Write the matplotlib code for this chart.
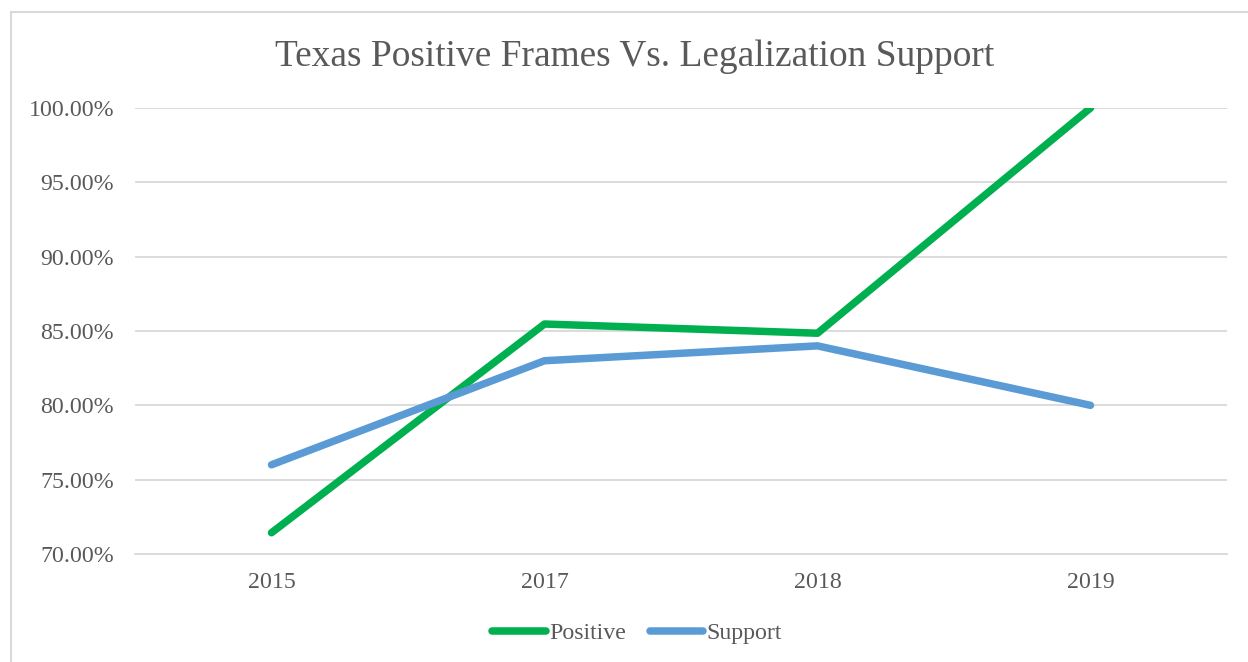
import matplotlib
matplotlib.use('Agg')
import matplotlib.pyplot as plt
from matplotlib.lines import Line2D
from matplotlib.ticker import FuncFormatter

years = ['2015', '2017', '2018', '2019']
positive = [71.43, 85.47, 84.85, 100.0]
support = [76.0, 83.0, 84.0, 80.0]

plt.rcParams['font.family'] = ['Liberation Serif', 'DejaVu Serif']
text_color = '#595959'
grid_color = '#D9D9D9'

fig = plt.figure(figsize=(12.48, 6.62), dpi=100)
ax = fig.add_axes([135 / 1248, 1 - 554 / 662, (1227 - 135) / 1248, (554 - 108) / 662])

x = [i + 0.5 for i in range(len(years))]
ax.plot(x, positive, color='#00B050', lw=5.4, solid_capstyle='round',
        solid_joinstyle='round', label='Positive', zorder=3)
ax.plot(x, support, color='#5B9BD5', lw=5.4, solid_capstyle='round',
        solid_joinstyle='round', label='Support', zorder=3)

ax.set_xlim(0, len(years))
ax.set_ylim(70, 100)
ax.set_yticks([70, 75, 80, 85, 90, 95, 100])
ax.yaxis.set_major_formatter(FuncFormatter(lambda v, p: f'{v:.2f}%'))
ax.set_xticks(x)
ax.set_xticklabels(years)

ax.grid(axis='y', color=grid_color, lw=1.3)
ax.set_axisbelow(True)
for s in ['top', 'right', 'left']:
    ax.spines[s].set_visible(False)
ax.spines['bottom'].set_color(grid_color)
ax.spines['bottom'].set_linewidth(1.3)
ax.tick_params(length=0, labelsize=17.2, colors=text_color)
ax.tick_params(axis='y', pad=15)
ax.tick_params(axis='x', pad=13)

fig.text(635 / 1248, 1 - 57 / 662, 'Texas Positive Frames Vs. Legalization Support',
         ha='center', va='center', fontsize=26.9, color=text_color)

fig.legend(loc='center', bbox_to_anchor=(637 / 1248, 1 - 633 / 662), ncol=2,
           frameon=False, fontsize=17.2, labelcolor=text_color,
           handlelength=2.25, handletextpad=0.12, columnspacing=1.0)

# chart border (only top and left visible in the crop)
fig.add_artist(Line2D([11 / 1248, 1], [1 - 12 / 662, 1 - 12 / 662],
                      transform=fig.transFigure, color=grid_color, lw=1.5))
fig.add_artist(Line2D([11 / 1248, 11 / 1248], [0, 1 - 12 / 662],
                      transform=fig.transFigure, color=grid_color, lw=1.5))

fig.savefig('out.png', dpi=100)
